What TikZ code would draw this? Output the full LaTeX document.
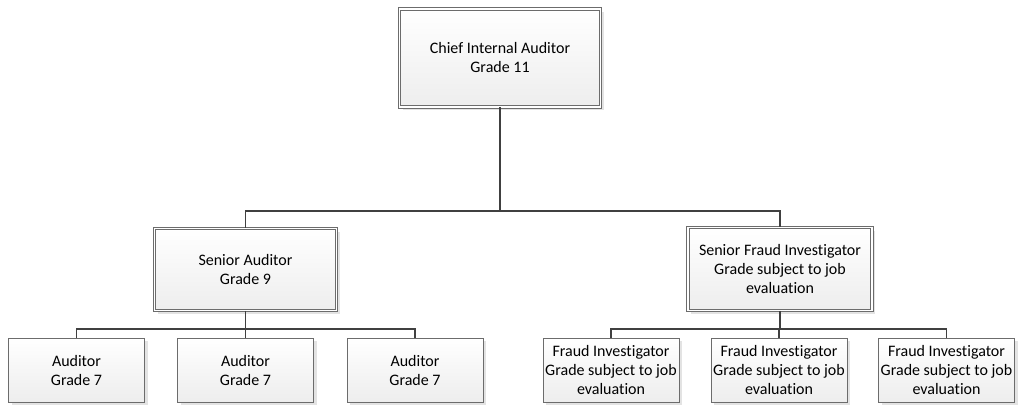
\documentclass[tikz,border=0pt]{standalone}
\usepackage{fontspec}
\setmainfont{Carlito}[Ligatures=NoCommon]
\usetikzlibrary{shadows}

\tikzset{
  post/.style={draw=gray!85!black, line width=0.8pt, double=white, double distance=1.6pt,
    top color=white, bottom color=gray!14, align=center, inner sep=0pt,
    font=\fontsize{16}{19}\selectfont,
    drop shadow={shadow xshift=3pt, shadow yshift=-3pt, fill=gray!22, opacity=1}},
  staff/.style={draw=gray!85!black, line width=0.9pt,
    top color=white, bottom color=gray!14, align=center, inner sep=0pt,
    minimum width=136, minimum height=64, font=\fontsize{16}{19}\selectfont,
    drop shadow={shadow xshift=3pt, shadow yshift=-3pt, fill=gray!22, opacity=1}},
  link/.style={draw=black!75, line width=1.7pt}
}

\begin{document}
\begin{tikzpicture}[x=1pt, y=-1pt]
  %%%%% START %%%%%
  \useasboundingbox (0,0) rectangle (1021,407);

  % top and middle level
  \node[post, minimum width=201, minimum height=98] (chief) at (500,58)
    {Chief Internal Auditor\\Grade 11};
  \node[post, minimum width=182, minimum height=82] (sa) at (245.5,269.5)
    {Senior Auditor\\Grade 9};
  \node[post, minimum width=184, minimum height=83] (sf) at (780,269)
    {Senior Fraud Investigator\\Grade subject to job\\evaluation};

  % bottom level
  \node[staff] (a1) at (76.5,370) {Auditor\\Grade 7};
  \node[staff] (a2) at (245.5,370) {Auditor\\Grade 7};
  \node[staff] (a3) at (415,370) {Auditor\\Grade 7};
  \node[staff] (f1) at (611,370) {Fraud Investigator\\Grade subject to job\\evaluation};
  \node[staff] (f2) at (779,370) {Fraud Investigator\\Grade subject to job\\evaluation};
  \node[staff] (f3) at (946.5,370) {Fraud Investigator\\Grade subject to job\\evaluation};

  % connectors
  \coordinate (bus1) at (500,211);
  \coordinate (bus2) at (245.5,329);
  \coordinate (bus3) at (780,329);

  \draw[link] (chief.south) -- (bus1);
  \draw[link] (bus1) -| (sa.north);
  \draw[link] (bus1) -| (sf.north);

  \draw[link] (sa.south) -- (bus2);
  \draw[link] (bus2) -| (a1.north);
  \draw[link] (bus2) -- (a2.north);
  \draw[link] (bus2) -| (a3.north);

  \draw[link] (sf.south) -- (bus3);
  \draw[link] (bus3) -| (f1.north);
  \draw[link] (bus3) -| (f2.north);
  \draw[link] (bus3) -| (f3.north);
  %%%%% END %%%%%
\end{tikzpicture}
\end{document}
